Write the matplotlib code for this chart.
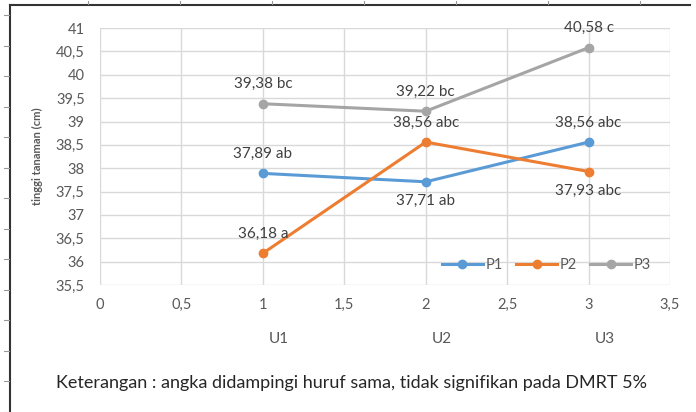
import matplotlib.pyplot as plt
from matplotlib.lines import Line2D

plt.rcParams['font.family'] = ['Lato', 'DejaVu Sans']

# data
x_pos = [1, 2, 3]
groups = ['U1', 'U2', 'U3']
p1 = [37.89, 37.71, 38.56]
p2 = [36.18, 38.56, 37.93]
p3 = [39.38, 39.22, 40.58]
p1_lbl = ['37,89 ab', '37,71 ab', '38,56 abc']
p2_lbl = ['36,18 a', '38,56 abc', '37,93 abc']
p3_lbl = ['39,38 bc', '39,22 bc', '40,58 c']

blue = '#5B9BD5'
orange = '#ED7D31'
grey = '#A5A5A5'
txt = '#404040'

fig = plt.figure(figsize=(6.96, 4.12), dpi=100)
ax = fig.add_axes([0.1437, 0.308, 0.819, 0.624])

for ys, c, name in [(p1, blue, 'P1'), (p2, orange, 'P2'), (p3, grey, 'P3')]:
    ax.plot(x_pos, ys, color=c, lw=2.2, marker='o', ms=6, label=name, zorder=3)

# data labels: above (1) or below (-1) the point
def put_labels(ys, labels, sides):
    for xv, yv, s, side in zip(x_pos, ys, labels, sides):
        off = 14 if side > 0 else -14
        ax.annotate(s, (xv, yv), xytext=(0, off), textcoords='offset points',
                    ha='center', va='center', fontsize=11, color=txt)

put_labels(p1, p1_lbl, [1, -1, 1])
put_labels(p2, p2_lbl, [1, 1, -1])
put_labels(p3, p3_lbl, [1, 1, 1])

ax.set_xlim(0, 3.5)
ax.set_ylim(35.5, 41)
xt = [i * 0.5 for i in range(8)]
yt = [35.5 + i * 0.5 for i in range(12)]
ax.set_xticks(xt)
ax.set_yticks(yt)
ax.set_xticklabels([('%g' % v).replace('.', ',') for v in xt])
ax.set_yticklabels([('%g' % v).replace('.', ',') for v in yt])
ax.tick_params(length=0, labelsize=10.5, labelcolor='#595959', pad=9)
ax.tick_params(axis='y', pad=11)
ax.grid(True, color='#D9D9D9', lw=1)
ax.set_axisbelow(True)
for sp in ax.spines.values():
    sp.set_visible(False)
ax.set_ylabel('tinggi tanaman (cm)', fontsize=8, color='#595959', labelpad=9,
              fontweight='bold')

for xv, g in zip(x_pos, groups):
    ax.text(xv + 0.1, -0.21, g, transform=ax.get_xaxis_transform(),
            ha='center', va='center', fontsize=11, color='#595959')

handles = [Line2D([], [], color=c, lw=2.2, marker='o', ms=6) for c in (blue, orange, grey)]
ax.legend(handles, ['P1', 'P2', 'P3'], loc='lower right', ncol=3, frameon=False,
          fontsize=10.5, labelcolor='#595959', handlelength=2.8, columnspacing=0.9,
          handletextpad=0.2, bbox_to_anchor=(0.99, 0.0))

fig.text(0.505, 0.07, 'Keterangan : angka didampingi huruf sama, tidak signifikan pada DMRT 5%',
         ha='center', va='center', fontsize=13, color='#262626')

# screenshot frame
fig.add_artist(Line2D([10 / 696, 10 / 696], [0, 1 - 5 / 412], color='#333333', lw=1.5))
fig.add_artist(Line2D([10 / 696, 690 / 696], [1 - 5 / 412, 1 - 5 / 412], color='#333333', lw=1.5))
for k in range(14):
    yy = 1 - (15 + 30.5 * k) / 412
    fig.add_artist(Line2D([4 / 696, 9 / 696], [yy, yy], color='#999999', lw=0.8))
for k in range(7):
    xx = (88 + 92 * k) / 696
    fig.add_artist(Line2D([xx, xx], [1 - 1 / 412, 1 - 4 / 412], color='#999999', lw=0.8))

fig.savefig('out.png', dpi=100)
